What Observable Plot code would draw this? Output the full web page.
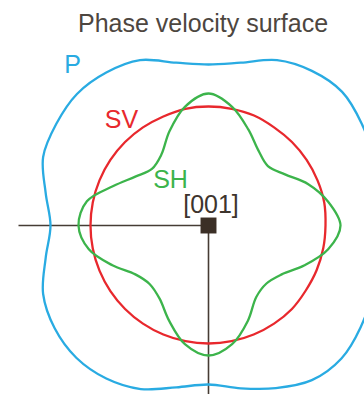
<!DOCTYPE html>
<html><head><meta charset="utf-8">
<script src="https://cdn.jsdelivr.net/npm/d3@7"></script>
<script src="https://cdn.jsdelivr.net/npm/@observablehq/plot@0.6"></script>
<style>
html,body{margin:0;padding:0;background:#fff;overflow:hidden;}
#title{font-family:"Liberation Sans",Arial,sans-serif;font-size:25px;color:#4d4640;height:40px;box-sizing:border-box;padding:8px 0 0 78px;line-height:30px;white-space:nowrap;}
</style></head><body>
<div id="title">Phase velocity surface</div>
<div id="chart"></div>
<script>
// Direction angles (degrees, counter-clockwise from the horizontal axis)
const angles = [0, 11.25, 22.5, 33.75, 45, 56.25, 67.5, 78.75, 90, 101.25, 112.5, 123.75, 135, 146.25, 157.5, 168.75,
                180, 191.25, 202.5, 213.75, 225, 236.25, 247.5, 258.75, 270, 281.25, 292.5, 303.75, 315, 326.25, 337.5, 348.75];
// Phase velocity (relative units)
const pRadius  = [160, 166, 178, 184, 189, 186, 179, 166, 161, 166, 179, 184, 186, 183, 179, 166,
                  158, 166, 179, 185, 187, 184, 177, 165, 159, 166, 176, 186, 188, 183, 177, 166];
const svRadius = [117, 118, 118, 118, 118, 118, 119, 119, 119, 119, 118, 118, 118, 118, 118, 118,
                  118, 118, 118, 118, 118, 118, 118, 118, 118, 118, 118, 118, 118, 117, 117, 117];
const shRadius = [132, 122, 108, 92, 84, 90, 104, 121, 132, 121, 102, 85, 80, 88, 103, 124,
                  130, 122, 104, 88, 83, 88, 103, 121, 130, 121, 103, 86, 82, 88, 104, 122];
const waveNames = ["P", "SV", "SH"];
const centerLabel = "[001]";
const axisRays = [{angle: 180, length: 190}, {angle: 270, length: 172}];
const labelAngleIndex = 12;

const waveColors = ["#29abe2", "#e8282d", "#3cb44b"];
const labelDx = [-4.5, -3.6, 18.6];
const labelDy = [-20.5, -13.6, 18.6];
const font = "Liberation Sans, Arial, sans-serif";

const rad = d => d * Math.PI / 180;
const radii = [pRadius, svRadius, shRadius];
const rows = waveNames.flatMap((w, i) => radii[i].map((r, j) => ({
  wave: w, x: r * Math.cos(rad(angles[j])), y: r * Math.sin(rad(angles[j]))
})));
const labelRows = waveNames.map((w, i) => {
  const a = rad(angles[labelAngleIndex]), r = radii[i][labelAngleIndex];
  return {wave: w, x: r * Math.cos(a), y: r * Math.sin(a)};
});

const chart = Plot.plot({
  width: 364, height: 354, margin: 0,
  x: {domain: [-208, 156], axis: null},
  y: {domain: [-169, 185], axis: null},
  color: {domain: waveNames, range: waveColors},
  marks: [
    Plot.link(axisRays, {x1: 0, y1: 0,
      x2: d => d.length * Math.cos(rad(d.angle)), y2: d => d.length * Math.sin(rad(d.angle)),
      stroke: "#463c34", strokeWidth: 1.6}),
    Plot.line(rows, {x: "x", y: "y", z: "wave", stroke: "wave", curve: "catmull-rom-closed", strokeWidth: 2.3}),
    Plot.dot([{x: 0, y: 0}], {x: "x", y: "y", symbol: "square", r: 9, fill: "#3b2f26"}),
    Plot.text([{x: 0, y: 0, t: centerLabel}], {x: "x", y: "y", text: "t", dx: 2.5, dy: -13,
      lineAnchor: "bottom", textAnchor: "middle", fontSize: 25, fontFamily: font, fill: "#3d342d"}),
    ...labelRows.map((d, i) => Plot.text([d], {x: "x", y: "y", text: "wave", fill: waveColors[i],
      dx: labelDx[i], dy: labelDy[i], lineAnchor: "bottom", textAnchor: "middle", fontSize: 25, fontFamily: font}))
  ]
});
document.getElementById("chart").appendChild(chart);
</script>
</body></html>
